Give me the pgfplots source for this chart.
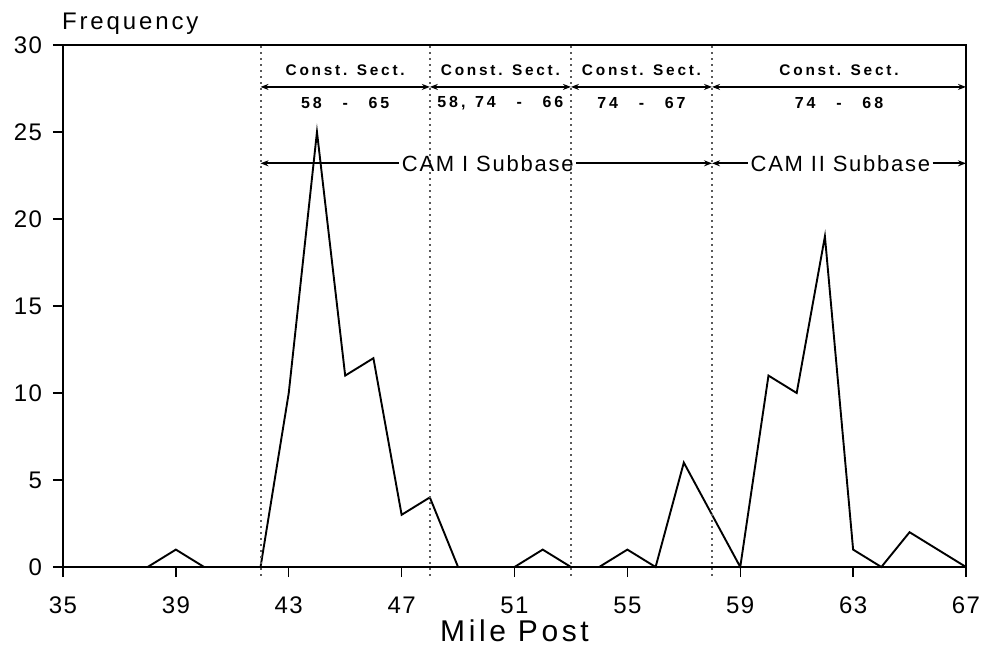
\documentclass[border=0pt]{standalone}
\usepackage{fontspec}
\setmainfont{Liberation Sans}
\newfontfamily\tickfont[LetterSpace=6]{Liberation Sans}
\newfontfamily\labfont[LetterSpace=12]{Liberation Sans}
\newfontfamily\sectfont[LetterSpace=18]{Liberation Sans}
\newfontfamily\camfont[LetterSpace=8]{Liberation Sans}
\usepackage{pgfplots}
\pgfplotsset{compat=1.18}
\usetikzlibrary{arrows.meta}

\pgfplotstableread{
x y
35 0
36 0
37 0
38 0
39 1
40 0
41 0
42 0
43 10
44 25
45 11
46 12
47 3
48 4
49 0
50 0
51 0
52 1
53 0
54 0
55 1
56 0
57 6
58 3
59 0
60 11
61 10
62 19
63 1
64 0
65 2
66 1
67 0
}\freq

\begin{document}
\begin{tikzpicture}[
  sect/.style={font=\sectfont\fontsize{7.7}{9}\selectfont\bfseries},
  num/.style={font=\sectfont\fontsize{8}{9}\selectfont\bfseries},
  cam/.style={font=\camfont\fontsize{11}{13}\selectfont},
  dim/.style={line width=0.9pt, {Stealth[length=4pt,width=3pt]}-{Stealth[length=4pt,width=3pt]}},
]
\begin{axis}[
  scale only axis,
  width=451.5pt, height=261pt,
  xmin=35, xmax=67, ymin=0, ymax=30,
  xtick={35,39,...,67}, ytick={0,5,...,30},
  xtick pos=bottom, ytick pos=left,
  tick align=outside,
  major tick length=5pt,
  axis line style={line width=0.7pt},
  every tick/.style={black, line width=0.7pt},
  tick label style={font=\tickfont\fontsize{12}{14}\selectfont},
  /pgf/number format/assume math mode=true,
  xticklabel style={anchor=base, yshift=-18pt},
  yticklabel style={anchor=east, xshift=-2pt},
  xlabel={Mile Post},
  xlabel style={font=\labfont\fontsize{15}{17}\selectfont, at={(axis description cs:0.5,0)}, anchor=base, yshift=-37pt},
  clip=false,
]
\addplot[black, line width=0.95pt] table[x=x, y=y] {\freq};

% section boundaries
\foreach \s in {42,48,53,58} {
  \edef\tmp{\noexpand\draw[gray!70!black, dotted, line width=1pt] (axis cs:\s,-0.5) -- (axis cs:\s,30);}
  \tmp
}

% construction sections
\draw[dim] (axis cs:42,27.59) -- (axis cs:48,27.59);
\draw[dim] (axis cs:48,27.59) -- (axis cs:53,27.59);
\draw[dim] (axis cs:53,27.59) -- (axis cs:58,27.59);
\draw[dim] (axis cs:58,27.59) -- (axis cs:67,27.59);

\node[sect] at (axis cs:45,28.56) {Const. Sect.};
\node[sect] at (axis cs:50.5,28.56) {Const. Sect.};
\node[sect] at (axis cs:55.5,28.56) {Const. Sect.};
\node[sect] at (axis cs:62.5,28.56) {Const. Sect.};

\node[num] at (axis cs:45,26.67) {58\hspace{1.3em}-\hspace{1.3em}65};
\node[num] at (axis cs:50.5,26.67) {58,\hspace{0.6em}74\hspace{1.3em}-\hspace{1.3em}66};
\node[num] at (axis cs:55.5,26.67) {74\hspace{1.3em}-\hspace{1.3em}67};
\node[num] at (axis cs:62.5,26.67) {74\hspace{1.3em}-\hspace{1.3em}68};

% subbase types
\node[cam, inner sep=1pt] (cam1) at (axis cs:50.05,23.2) {CAM I Subbase};
\draw[line width=0.9pt, {Stealth[length=4pt,width=3pt]}-] (axis cs:42,23.2) -- (cam1.west);
\draw[line width=0.9pt, -{Stealth[length=4pt,width=3pt]}] (cam1.east) -- (axis cs:58,23.2);
\node[cam, inner sep=1pt] (cam2) at (axis cs:62.55,23.2) {CAM II Subbase};
\draw[line width=0.9pt, {Stealth[length=4pt,width=3pt]}-] (axis cs:58,23.2) -- (cam2.west);
\draw[line width=0.9pt, -{Stealth[length=4pt,width=3pt]}] (cam2.east) -- (axis cs:67,23.2);

\node[font=\labfont\fontsize{12}{14}\selectfont, anchor=base west] at ([xshift=-4pt, yshift=7.5pt]rel axis cs:0,1) {Frequency};
\end{axis}
\pgfresetboundingbox
\path[use as bounding box] ([xshift=-31.5pt, yshift=-42.5pt]current axis.south west) rectangle ++(492pt,326pt);
\end{tikzpicture}
\end{document}
